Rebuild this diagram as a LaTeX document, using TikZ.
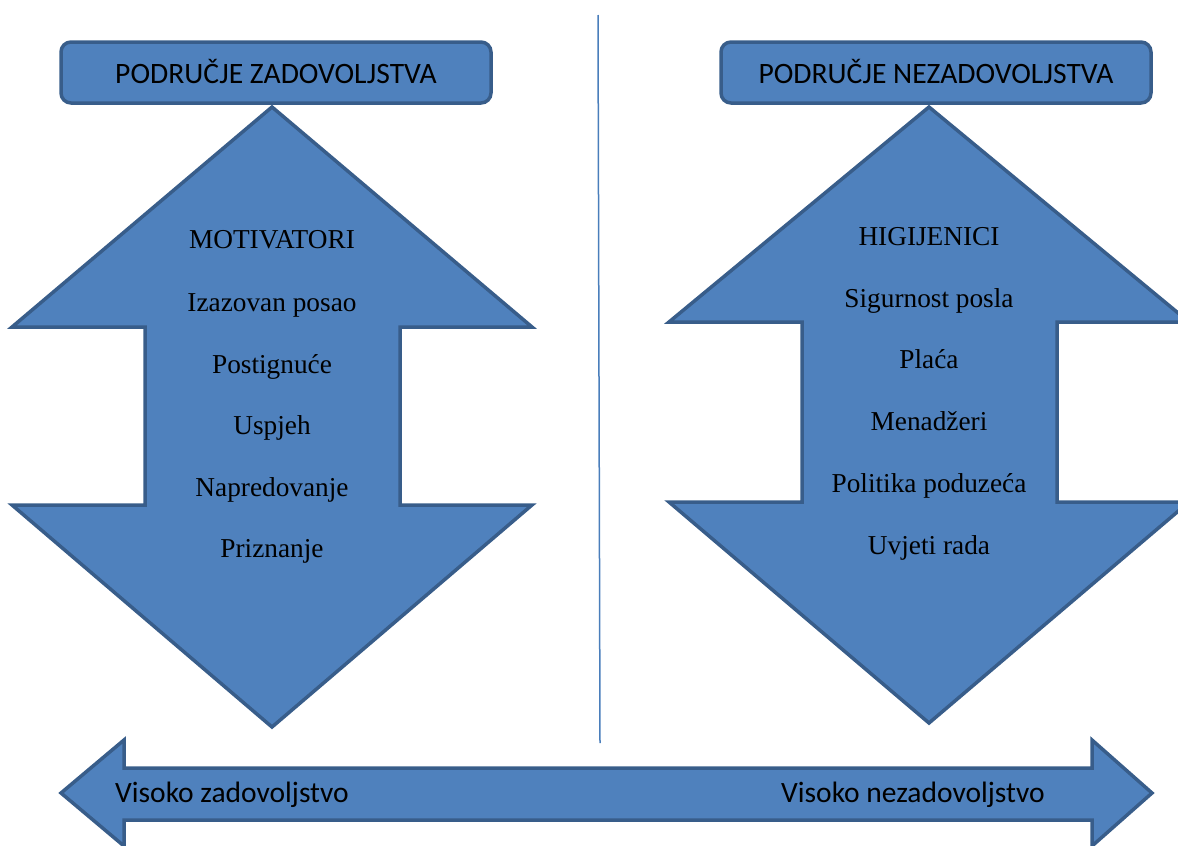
\documentclass[tikz,border=0pt]{standalone}
\usepackage{fontspec}
\setmainfont{Liberation Serif}
\newfontfamily\calib{Carlito}
\definecolor{fillblue}{HTML}{4F81BD}
\definecolor{edgeblue}{HTML}{385D8A}
\definecolor{lineblue}{HTML}{4A7EBB}
\begin{document}
\begin{tikzpicture}[x=1pt,y=-1pt,
  shapestyle/.style={fill=fillblue,draw=edgeblue,line width=3.5pt,line join=miter},
  titlestyle/.style={anchor=base,font=\calib\fontsize{29.6}{32}\selectfont,inner sep=0pt},
  itemstyle/.style={anchor=base,font=\fontsize{27.3}{30}\selectfont,inner sep=0pt},
  endstyle/.style={anchor=base west,font=\calib\fontsize{29.5}{32}\selectfont,inner sep=0pt}]
\useasboundingbox (0,0) rectangle (1178,846);
\begin{scope}
\clip (0,0) rectangle (1178,846);
% divider
\coordinate (dtop) at (598,15);
\coordinate (dbot) at (600,743);
\draw[lineblue,line width=1.5pt] (dtop) -- (dbot);
% left double arrow
\draw[shapestyle] (272,107) -- (532,327) -- (400,327) -- (400,505) -- (532,505) -- (272,727) -- (12,505) -- (145,505) -- (145,327) -- (12,327) -- cycle;
% right double arrow
\draw[shapestyle] (929,107) -- (1189,322) -- (1057,322) -- (1057,502) -- (1189,502) -- (929,723) -- (669,502) -- (802,502) -- (802,322) -- (669,322) -- cycle;
% title boxes
\draw[shapestyle,rounded corners=10pt] (61,42) rectangle (491,103);
\draw[shapestyle,rounded corners=10pt] (721,42) rectangle (1151,103);
% bottom double arrow
\draw[shapestyle] (61,793) -- (124,740) -- (124,768) -- (1092,768) -- (1092,740) -- (1152,793) -- (1092,846) -- (1092,820) -- (124,820) -- (124,846) -- cycle;
\end{scope}
% titles
\node[titlestyle] (tl) at (276,83) {PODRUČJE ZADOVOLJSTVA};
\node[titlestyle] (tr) at (936,83) {PODRUČJE NEZADOVOLJSTVA};
% left items
\node[itemstyle] (l0) at (272,248) {MOTIVATORI};
\node[itemstyle] (l1) at (272,311) {Izazovan posao};
\node[itemstyle] (l2) at (272,373) {Postignuće};
\node[itemstyle] (l3) at (272,434) {Uspjeh};
\node[itemstyle] (l4) at (272,496) {Napredovanje};
\node[itemstyle] (l5) at (272,557) {Priznanje};
% right items
\node[itemstyle] (r0) at (929,245) {HIGIJENICI};
\node[itemstyle] (r1) at (929,307) {Sigurnost posla};
\node[itemstyle] (r2) at (929,368) {Plaća};
\node[itemstyle] (r3) at (929,430) {Menadžeri};
\node[itemstyle] (r4) at (929,492) {Politika poduzeća};
\node[itemstyle] (r5) at (929,554) {Uvjeti rada};
% bottom labels
\node[endstyle] (bl) at (115,802) {Visoko zadovoljstvo};
\node[endstyle] (br) at (781,802) {Visoko nezadovoljstvo};
\end{tikzpicture}
\end{document}
